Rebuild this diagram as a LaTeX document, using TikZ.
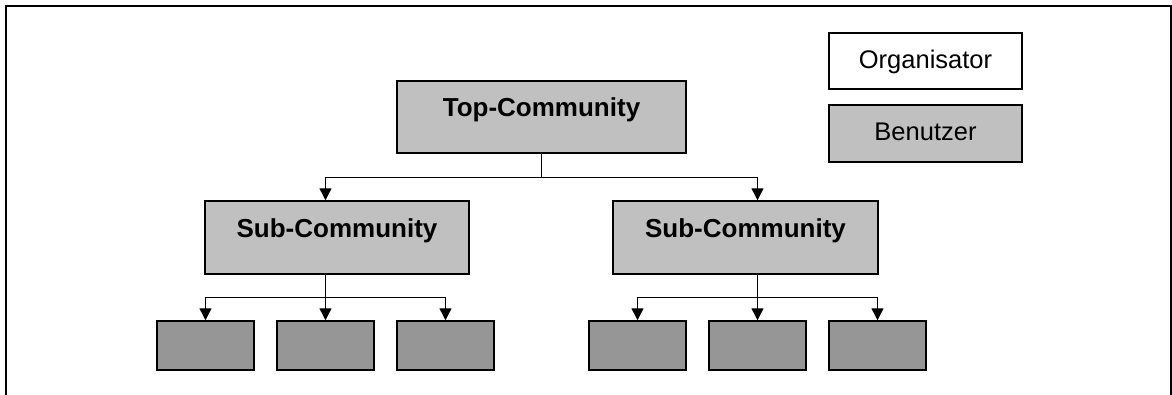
\documentclass[tikz,border=0pt]{standalone}
\usepackage{fontspec}
\setmainfont{Liberation Sans}
\usetikzlibrary{arrows.meta}
\definecolor{boxlight}{HTML}{C0C0C0}
\definecolor{boxdark}{HTML}{969696}
\tikzset{
  box/.style={draw=black, line width=1.5pt, inner sep=0pt, rectangle},
  orgbox/.style={box, fill=white},
  userbox/.style={box, fill=boxlight},
  leafbox/.style={box, fill=boxdark, minimum width=97pt, minimum height=49pt},
  boxtext/.style={font=\fontsize{26}{30}\selectfont\bfseries, inner sep=0pt, anchor=base},
  legendtext/.style={font=\fontsize{25.5}{30}\selectfont, inner sep=0pt, anchor=base},
  link/.style={line width=1.4pt, black},
  arrowlink/.style={link, -{Triangle[length=12pt, width=12pt]}},
  frameline/.style={line width=2.3pt, black}
}
\begin{document}
\begin{tikzpicture}[x=1pt, y=-1pt]
  \useasboundingbox (0,0) rectangle (1172,394);

  % open frame (no bottom edge)
  \draw[frameline] (6,400) -- (6,6) -- (1170.8,6) -- (1170.8,400);

  % legend
  \node[orgbox, minimum width=193pt, minimum height=56pt] (org) at (925.5,61) {};
  \node[legendtext] (orgtxt) at (925.5,68.7) {Organisator};
  \node[userbox, minimum width=193pt, minimum height=57pt] (usr) at (925.5,133.5) {};
  \node[legendtext] (usrtxt) at (925.5,140) {Benutzer};

  % hierarchy boxes
  \node[userbox, minimum width=289pt, minimum height=72pt] (top) at (541.5,117) {};
  \node[boxtext] (toptxt) at (541.5,116.7) {Top-Community};

  \node[userbox, minimum width=264pt, minimum height=73pt] (subA) at (337,237.5) {};
  \node[boxtext] (subAtxt) at (337,237.3) {Sub-Community};
  \node[userbox, minimum width=265pt, minimum height=73pt] (subB) at (745.5,237.5) {};
  \node[boxtext] (subBtxt) at (745.5,237.3) {Sub-Community};

  \node[leafbox] (a1) at (205.5,345.5) {};
  \node[leafbox] (a2) at (325.5,345.5) {};
  \node[leafbox] (a3) at (445.5,345.5) {};
  \node[leafbox] (b1) at (637.5,345.5) {};
  \node[leafbox] (b2) at (757.5,345.5) {};
  \node[leafbox] (b3) at (877.5,345.5) {};

  % connectors: top level to sub-communities
  \coordinate (jt) at ([yshift=-24pt]top.south);
  \draw[link] (top.south) -- (jt);
  \draw[arrowlink] (jt) -| (subA.north -| a2.north);
  \draw[arrowlink] (jt) -| (subB.north -| b2.north);

  % connectors: sub-communities to members
  \coordinate (ja) at ([yshift=-23pt]subA.south -| a2.north);
  \draw[link] (subA.south -| a2.north) -- (ja);
  \draw[arrowlink] (ja) -| (a1.north);
  \draw[arrowlink] (ja) -- (a2.north);
  \draw[arrowlink] (ja) -| (a3.north);

  \coordinate (jb) at ([yshift=-23pt]subB.south -| b2.north);
  \draw[link] (subB.south -| b2.north) -- (jb);
  \draw[arrowlink] (jb) -| (b1.north);
  \draw[arrowlink] (jb) -- (b2.north);
  \draw[arrowlink] (jb) -| (b3.north);
\end{tikzpicture}
\end{document}
